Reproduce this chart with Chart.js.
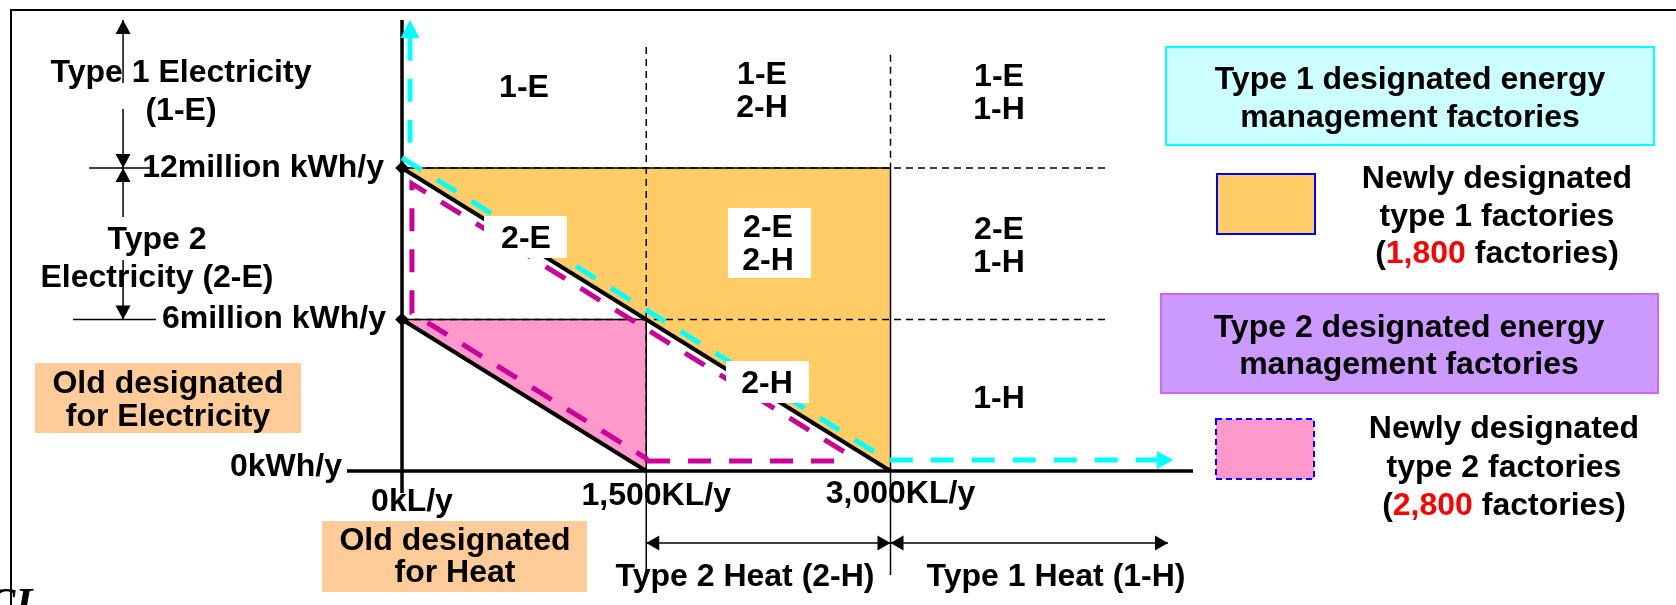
<!DOCTYPE html>
<html>
<head>
<meta charset="utf-8">
<script src="https://cdn.jsdelivr.net/npm/chart.js@4.4.0/dist/chart.umd.min.js"></script>
<style>
  html, body { margin: 0; padding: 0; background: #fff; }
  #wrap { width: 1676px; height: 605px; }
</style>
</head>
<body>
<div id="wrap"><canvas id="map" width="1676" height="605"></canvas></div>
<script>
// x = heat use (KL/y), y = electricity use (million kWh/y)
const heatTicks = [0, 1500, 3000];
const heatTickLabels = ['0kL/y', '1,500KL/y', '3,000KL/y'];
const elecTicks = [0, 6, 12];
const elecTickLabels = ['0kWh/y', '6million kWh/y', '12million kWh/y'];

// threshold lines
const type1Line = [{ x: 0, y: 12 }, { x: 3000, y: 0 }];
const type2Line = [{ x: 0, y: 6 }, { x: 1500, y: 0 }];

// boundaries of the new type 1 / type 2 designation
const cyanUp = [{ x: 49, y: 13 }, { x: 49, y: 17.15 }];
const cyanPath = [{ x: 0, y: 12.4 }, { x: 2980, y: 0.44 }, { x: 4637, y: 0.44 }];
const magentaPath = [
  { x: 1505, y: 0.4 }, { x: 2690, y: 0.4 }, { x: 2725, y: 0.72 },
  { x: 61, y: 11.38 }, { x: 61, y: 6.26 }, { x: 1500, y: 0.5 }, { x: 1505, y: 0.4 }
];

// zone codes
const zoneLabels = [['1-E'], ['1-E', '2-H'], ['1-E', '1-H'], ['2-E'], ['2-E', '2-H'], ['2-E', '1-H'], ['2-H'], ['1-H']];
const heatBands = ['Type 2 Heat (2-H)', 'Type 1 Heat (1-H)'];
const elecBands = [['Type 1 Electricity', '(1-E)'], ['Type 2', 'Electricity (2-E)']];
const oldLabels = [['Old designated', 'for Electricity'], ['Old designated', 'for Heat']];
const groupTitles = [['Type 1 designated energy', 'management factories'], ['Type 2 designated energy', 'management factories']];
const newCounts = [1800, 2800];

const X_MIN = -2468.8, X_MAX = 7823.9;
const Y_MIN = -5.307, Y_MAX = 18.653;
const FONT = 'bold 32px "Liberation Sans", Arial, sans-serif';

function seg(data, opts) {
  return Object.assign({
    data, showLine: true, borderColor: '#000', borderWidth: 1.5,
    pointRadius: 0, fill: false, tension: 0
  }, opts || {});
}

const dash = [7, 5];
const layers = [
  seg(type1Line, { borderWidth: 0, fill: { value: 12 }, backgroundColor: '#FFCC66' }),
  seg(type2Line, { borderWidth: 0, fill: { value: 6 }, backgroundColor: '#FF99CC' }),
  seg([{ x: 0, y: 12 }, { x: 4348, y: 12 }], { borderDash: dash }),
  seg([{ x: 0, y: 6 }, { x: 4330, y: 6 }], { borderDash: dash }),
  seg([{ x: 1500, y: 16.79 }, { x: 1500, y: 0 }], { borderDash: dash }),
  seg([{ x: 3000, y: 16.48 }, { x: 3000, y: 12 }], { borderDash: dash }),
  seg([{ x: 0, y: 12 }, { x: 3000, y: 12 }]),
  seg([{ x: 0, y: 6 }, { x: 1500, y: 6 }]),
  seg([{ x: 1500, y: 6 }, { x: 1500, y: -4.12 }]),
  seg([{ x: 3000, y: 12 }, { x: 3000, y: -4.12 }]),
  seg([{ x: -1713, y: 15.37 }, { x: -1713, y: 17.86 }], { arrow: 'end', arrowLen: 14, arrowW: 15 }),
  seg([{ x: -1713, y: 14.34 }, { x: -1713, y: 12 }], { arrow: 'end', arrowLen: 14, arrowW: 15 }),
  seg([{ x: -1713, y: 10.06 }, { x: -1713, y: 12 }], { arrow: 'end', arrowLen: 14, arrowW: 15 }),
  seg([{ x: -1713, y: 8.36 }, { x: -1713, y: 6 }], { arrow: 'end', arrowLen: 14, arrowW: 15 }),
  seg([{ x: -1922, y: 12 }, { x: -1548, y: 12 }]),
  seg([{ x: -2020, y: 6 }, { x: -1511, y: 6 }]),
  seg([{ x: 1500, y: -2.85 }, { x: 3000, y: -2.85 }], { arrow: 'both', arrowLen: 13, arrowW: 15 }),
  seg([{ x: 3000, y: -2.85 }, { x: 4704, y: -2.85 }], { arrow: 'both', arrowLen: 13, arrowW: 15 }),
  seg(type1Line, { borderWidth: 4, pointRadius: [4, 0], pointStyle: 'rectRot', pointBackgroundColor: '#000' }),
  seg(type2Line, { borderWidth: 4, pointRadius: [4, 0], pointStyle: 'rectRot', pointBackgroundColor: '#000' }),
  seg([{ x: -338, y: 0 }, { x: 4858, y: 0 }], { borderWidth: 3.5 }),
  seg([{ x: 0, y: -0.87 }, { x: 0, y: 17.86 }], { borderWidth: 3.5 }),
  seg(magentaPath, { borderColor: '#CC0099', borderWidth: 5, borderDash: [23, 18] }),
  seg(cyanUp, { borderColor: '#00FFFF', borderWidth: 5, borderDash: [23, 18], arrow: 'ahead', arrowLen: 18, arrowW: 19 }),
  seg(cyanPath, { borderColor: '#00FFFF', borderWidth: 5, borderDash: [23, 18], arrow: 'ahead', arrowLen: 16, arrowW: 18 })
];
layers.forEach((d, i) => { d.order = layers.length - i; });

const arrowHeads = {
  id: 'arrowHeads',
  afterDatasetsDraw(chart) {
    const ctx = chart.ctx;
    chart.data.datasets.forEach((ds, i) => {
      if (!ds.arrow) return;
      const pts = chart.getDatasetMeta(i).data;
      const n = pts.length;
      const ends = [[pts[n - 1], pts[n - 2]]];
      if (ds.arrow === 'both') ends.push([pts[0], pts[1]]);
      ends.forEach(([tip, from]) => {
        const a = Math.atan2(tip.y - from.y, tip.x - from.x);
        const L = ds.arrowLen, W = ds.arrowW / 2;
        const shift = ds.arrow === 'ahead' ? L : 0;
        ctx.save();
        ctx.translate(tip.x, tip.y);
        ctx.rotate(a);
        ctx.beginPath();
        ctx.moveTo(shift, 0);
        ctx.lineTo(shift - L, -W);
        ctx.lineTo(shift - L, W);
        ctx.closePath();
        ctx.fillStyle = ds.borderColor;
        ctx.fill();
        ctx.restore();
      });
    });
  }
};

function lines(ctx, arr, cx, y0, step) {
  arr.forEach((s, k) => ctx.fillText(s, cx, y0 + k * step));
}
function box(ctx, x, y, w, h, fill, stroke, dashed) {
  ctx.fillStyle = fill;
  ctx.fillRect(x, y, w, h);
  if (stroke) {
    ctx.save();
    ctx.strokeStyle = stroke;
    ctx.lineWidth = 2;
    if (dashed) ctx.setLineDash([6, 4]);
    ctx.strokeRect(x, y, w, h);
    ctx.restore();
  }
}
function countLine(ctx, n, cx, y) {
  const parts = [['(', '#000'], [n.toLocaleString('en-US'), '#FF0000'], [' factories)', '#000']];
  const total = parts.reduce((s, p) => s + ctx.measureText(p[0]).width, 0);
  let x = cx - total / 2;
  ctx.textAlign = 'left';
  parts.forEach(([s, c]) => { ctx.fillStyle = c; ctx.fillText(s, x, y); x += ctx.measureText(s).width; });
  ctx.textAlign = 'center';
  ctx.fillStyle = '#000';
}

const annotations = {
  id: 'annotations',
  afterDraw(chart) {
    const ctx = chart.ctx;
    const xs = chart.scales.x, ys = chart.scales.y;
    ctx.save();

    // frame
    ctx.strokeStyle = '#000';
    ctx.lineWidth = 2;
    ctx.beginPath();
    ctx.moveTo(11, 605); ctx.lineTo(11, 10); ctx.lineTo(1676, 10);
    ctx.stroke();

    ctx.font = FONT;
    ctx.textBaseline = 'alphabetic';

    // white backing boxes in the plot
    box(ctx, 484, 216, 83, 42, '#fff');
    box(ctx, 728, 208, 83, 70, '#fff');
    box(ctx, 726, 361, 83, 42, '#fff');

    ctx.fillStyle = '#000';
    ctx.textAlign = 'center';
    const zonePos = [[524, 97], [762, 84], [999, 86], [526, 248], [768, 237], [999, 239], [767, 393], [999, 408]];
    zoneLabels.forEach((z, k) => lines(ctx, z, zonePos[k][0], zonePos[k][1], 33));

    // axis tick labels
    const heatBase = [511, 505, 503];
    heatTicks.forEach((v, k) => ctx.fillText(heatTickLabels[k], xs.getPixelForValue(v) + 10, heatBase[k]));
    ctx.textAlign = 'right';
    const elecRight = [342, 386, 384];
    ctx.textBaseline = 'middle';
    elecTicks.forEach((v, k) => ctx.fillText(elecTickLabels[k], elecRight[k], ys.getPixelForValue(v) + (k === 0 ? -4 : 0)));
    ctx.textBaseline = 'alphabetic';
    ctx.textAlign = 'center';

    // band captions
    lines(ctx, elecBands[0], 181, 82, 38);
    lines(ctx, elecBands[1], 157, 249, 38);
    ctx.fillText(heatBands[0], 745, 586);
    ctx.fillText(heatBands[1], 1056, 586);

    // old designation boxes
    box(ctx, 35, 363, 266, 70, '#FFCC99');
    box(ctx, 322, 521, 265, 71, '#FFCC99');
    ctx.fillStyle = '#000';
    lines(ctx, oldLabels[0], 168, 393, 33);
    lines(ctx, oldLabels[1], 455, 550, 32);

    // legend
    box(ctx, 1166, 47, 488, 98, '#CCFFFF', '#00FFFF');
    box(ctx, 1217, 174, 98, 60, '#FFCC66', '#0000FF');
    box(ctx, 1161, 294, 497, 99, '#CC99FF', '#CC66FF');
    box(ctx, 1216, 419, 98, 60, '#FF99CC', '#0000FF', true);
    ctx.fillStyle = '#000';
    lines(ctx, groupTitles[0], 1410, 89, 38);
    lines(ctx, groupTitles[1], 1409, 337, 37);
    lines(ctx, ['Newly designated', 'type 1 factories'], 1497, 188, 38);
    countLine(ctx, newCounts[0], 1497, 263);
    lines(ctx, ['Newly designated', 'type 2 factories'], 1504, 438, 39);
    countLine(ctx, newCounts[1], 1504, 515);

    // clipped glyphs at the lower-left corner
    ctx.font = 'bold italic 44px "Liberation Serif", serif';
    ctx.textAlign = 'left';
    ctx.fillText('CI', -14, 618);

    ctx.restore();
  }
};

const ctx_map = document.getElementById('map').getContext('2d');
new Chart(ctx_map, {
  type: 'scatter',
  data: { datasets: layers },
  options: {
    responsive: false,
    animation: false,
    events: [],
    layout: { padding: 0, autoPadding: false },
    plugins: { legend: { display: false }, tooltip: { enabled: false } },
    elements: { line: { tension: 0 } },
    scales: {
      x: { type: 'linear', display: false, min: X_MIN, max: X_MAX },
      y: { type: 'linear', display: false, min: Y_MIN, max: Y_MAX }
    }
  },
  plugins: [arrowHeads, annotations]
});
</script>
</body>
</html>
